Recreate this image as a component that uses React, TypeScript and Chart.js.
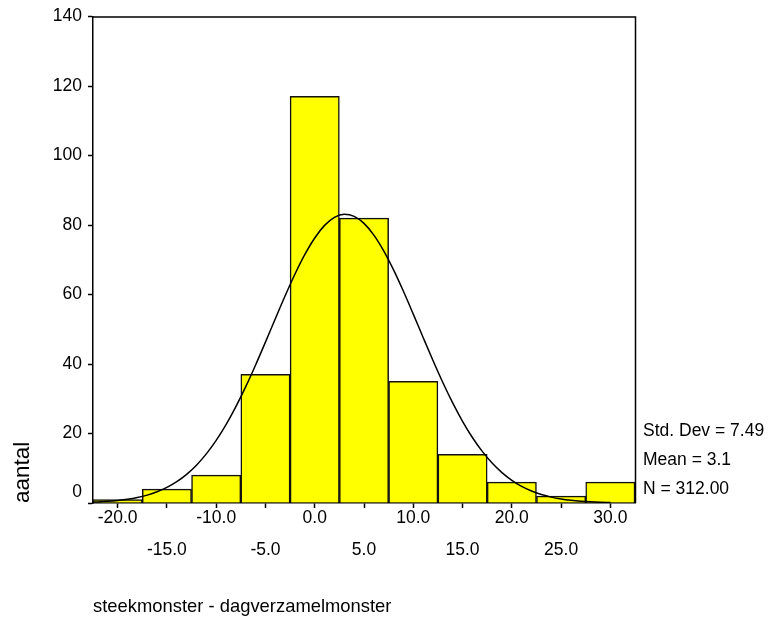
import React, { useEffect, useRef } from 'react';
import { Chart, registerables } from 'chart.js';

Chart.register(...registerables);

// Histogram bins (centre of each 5-unit bin) and counts
const binCenters = [-20, -15, -10, -5, 0, 5, 10, 15, 20, 25, 30];
const binCounts = [1, 4, 8, 37, 117, 82, 35, 14, 6, 2, 6];

// Fitted normal curve
const curveX = [-22.5, -22, -21, -20, -19, -18, -17, -16, -15, -14, -13, -12, -11, -10, -9, -8, -7, -6, -5, -4, -3, -2, -1, 0, 1, 2, 3, 4, 5, 6, 7, 8, 9, 10, 11, 12, 13, 14, 15, 16, 17, 18, 19, 20, 21, 22, 23, 24, 25, 26, 27, 28, 29, 30];
const curveY = [0.24, 0.30, 0.47, 0.72, 1.07, 1.57, 2.27, 3.22, 4.48, 6.14, 8.25, 10.89, 14.13, 18.0, 22.53, 27.71, 33.47, 39.72, 46.3, 53.02, 59.64, 65.9, 71.53, 76.27, 79.89, 82.2, 83.08, 82.49, 80.46, 77.09, 72.56, 67.08, 60.93, 54.36, 47.64, 41.02, 34.69, 28.82, 23.52, 18.85, 14.85, 11.49, 8.73, 6.52, 4.78, 3.44, 2.44, 1.69, 1.16, 0.78, 0.51, 0.33, 0.21, 0.13];

const xTickValues = [-20, -15, -10, -5, 0, 5, 10, 15, 20, 25, 30];
const xTickLabels = ['-20.0', '-15.0', '-10.0', '-5.0', '0.0', '5.0', '10.0', '15.0', '20.0', '25.0', '30.0'];
const yMin = 0;
const yMax = 140;
const yStep = 20;

const statLabels = ['Std. Dev = 7.49', 'Mean = 3.1', 'N = 312.00'];
const xTitle = 'steekmonster - dagverzamelmonster';
const yTitle = 'aantal';

const FONT = '"Liberation Sans", Arial, Helvetica, sans-serif';

const framePlugin = {
  id: 'frameAndStats',
  afterDraw(chart: any) {
    const { ctx, chartArea: a } = chart;
    ctx.save();
    ctx.strokeStyle = '#000';
    ctx.lineWidth = 1.5;
    ctx.beginPath();
    ctx.moveTo(a.left, a.top + 0.5);
    ctx.lineTo(a.right + 0.5, a.top + 0.5);
    ctx.lineTo(a.right + 0.5, a.bottom);
    ctx.stroke();
    ctx.font = `17.5px ${FONT}`;
    ctx.fillStyle = '#000';
    ctx.textBaseline = 'middle';
    ctx.textAlign = 'left';
    const n = statLabels.length;
    statLabels.forEach((t, i) => {
      ctx.fillText(t, a.right + 8, a.bottom - 14 - (n - 1 - i) * 29);
    });
    ctx.restore();
  },
};

export default function App() {
  const ref = useRef<HTMLCanvasElement | null>(null);

  useEffect(() => {
    if (!ref.current) return;
    Chart.defaults.font.family = FONT;
    Chart.defaults.color = '#000';
    const chart = new Chart(ref.current, {
      type: 'bar',
      data: {
        datasets: [
          {
            type: 'line',
            data: curveX.map((x, i) => ({ x, y: curveY[i] })),
            borderColor: '#000',
            borderWidth: 1.5,
            pointRadius: 0,
            fill: false,
            cubicInterpolationMode: 'monotone',
            order: 0,
          } as any,
          {
            type: 'bar',
            data: binCenters.map((x, i) => ({ x, y: binCounts[i] })),
            backgroundColor: '#FFFF00',
            borderColor: '#111',
            borderWidth: 1.5,
            barPercentage: 1,
            categoryPercentage: 1,
            order: 1,
          } as any,
        ],
      },
      options: {
        responsive: false,
        devicePixelRatio: 1,
        animation: false,
        layout: { padding: { top: 16, right: 135, bottom: 0, left: 0 } },
        plugins: {
          legend: { display: false },
          tooltip: { enabled: false },
        },
        scales: {
          x: {
            type: 'linear',
            min: -22.5,
            max: 32.5,
            offset: false,
            afterBuildTicks: (scale: any) => {
              scale.ticks = xTickValues.map((v) => ({ value: v }));
            },
            afterFit: (scale: any) => {
              scale.height = 116;
            },
            grid: {
              offset: false,
              drawOnChartArea: false,
              drawTicks: true,
              tickLength: 5,
              tickColor: '#000',
              tickWidth: 1.5,
            },
            border: { display: true, color: '#000', width: 1.5 },
            ticks: {
              autoSkip: false,
              maxRotation: 0,
              minRotation: 0,
              padding: -6,
              font: { size: 17.5, lineHeight: 32 / 17.5 },
              color: '#000',
              callback: (value: any) => {
                const i = xTickValues.indexOf(Number(value));
                const label = xTickLabels[i] ?? '';
                return i % 2 === 0 ? [label, ''] : ['', label];
              },
            },
            title: {
              display: true,
              text: xTitle,
              align: 'start',
              font: { size: 18.4 },
              color: '#000',
              padding: { top: 0, bottom: 1 },
            },
          },
          y: {
            type: 'linear',
            min: yMin,
            max: yMax,
            afterFit: (scale: any) => {
              scale.width = 93;
            },
            grid: {
              drawOnChartArea: false,
              drawTicks: true,
              tickLength: 5,
              tickColor: '#000',
              tickWidth: 1.5,
            },
            border: { display: true, color: '#000', width: 1.5 },
            ticks: {
              stepSize: yStep,
              padding: 6,
              font: { size: 17.5 },
              color: '#000',
              callback: (value: any) => (Number(value) === 0 ? ['0', ''] : String(value)),
            },
            title: {
              display: true,
              text: yTitle,
              align: 'start',
              font: { size: 22.5 },
              color: '#000',
              padding: { top: 9, bottom: 0 },
            },
          },
        },
      } as any,
      plugins: [framePlugin],
    });
    return () => chart.destroy();
  }, []);

  return (
    <div style={{ position: 'fixed', left: 0, top: 0, width: 770, height: 619, background: '#fff' }}>
      <canvas ref={ref} width={770} height={619} style={{ display: 'block' }} />
    </div>
  );
}
